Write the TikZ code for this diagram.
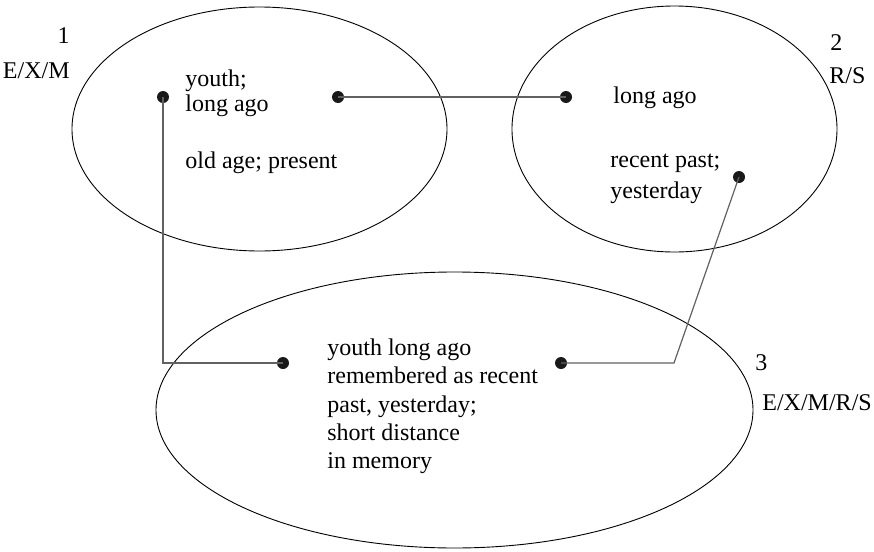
\documentclass[tikz,border=0pt]{standalone}
\usepackage{fontspec}
\setmainfont{Liberation Serif}
\begin{document}
\begin{tikzpicture}[x=0.5pt,y=-0.5pt,
  region/.style={draw=black,line width=0.45pt},
  dot/.style={circle,fill=black!90,inner sep=0pt,minimum size=6pt},
  link/.style={draw=black!62,line width=0.6pt},
  txt/.style={anchor=base west,inner sep=0pt,font=\fontsize{12}{14}\selectfont},
  tag/.style={anchor=base west,inner sep=0pt,font=\fontsize{12}{14}\selectfont}]
\useasboundingbox (0,0) rectangle (874,552);

% the three regions
\draw[region] (259.5,129) ellipse [x radius=187.5, y radius=122];
\draw[region] (674.5,129) ellipse [x radius=162.5, y radius=123];
\draw[region] (454.5,410) ellipse [x radius=298.5, y radius=138];

% region labels
\node[tag,anchor=base east] (n1) at (70,43) {1};
\node[tag,anchor=base east] (l1) at (70,78) {E/X/M};
\node[tag] (n2) at (830,50) {2};
\node[tag] (l2) at (829,83) {R/S};
\node[tag] (n3) at (755,370) {3};
\node[tag] (l3) at (762,410) {E/X/M/R/S};

% texts of region 1
\node[txt] (t1a) at (185,86) {youth;};
\node[txt] (t1b) at (185,111) {long ago};
\node[txt] (t1c) at (185,168) {old age; present};

% texts of region 2
\node[txt] (t2a) at (613,103) {long ago};
\node[txt] (t2b) at (610,167) {recent past;};
\node[txt] (t2c) at (610,198) {yesterday};

% texts of region 3
\node[txt] (t3a) at (327,355) {youth long ago};
\node[txt] (t3b) at (327,383) {remembered as recent};
\node[txt] (t3c) at (327,412) {past, yesterday;};
\node[txt] (t3d) at (327,440) {short distance};
\node[txt] (t3e) at (327,468) {in memory};

% connection points
\node[dot] (d1a) at (163,97) {};
\node[dot] (d1b) at (338,97) {};
\node[dot] (d2a) at (566,97) {};
\node[dot] (d2b) at (739,177) {};
\node[dot] (d3a) at (283,363) {};
\node[dot] (d3b) at (561,363) {};
\coordinate (bend) at (674,363);

% connectors
\draw[link] (d1b.center) -- (d2a.center);
\draw[link] (d1a.center) |- (d3a.center);
\draw[link] (d3b.center) -- (bend) -- (d2b.center);
\end{tikzpicture}
\end{document}
